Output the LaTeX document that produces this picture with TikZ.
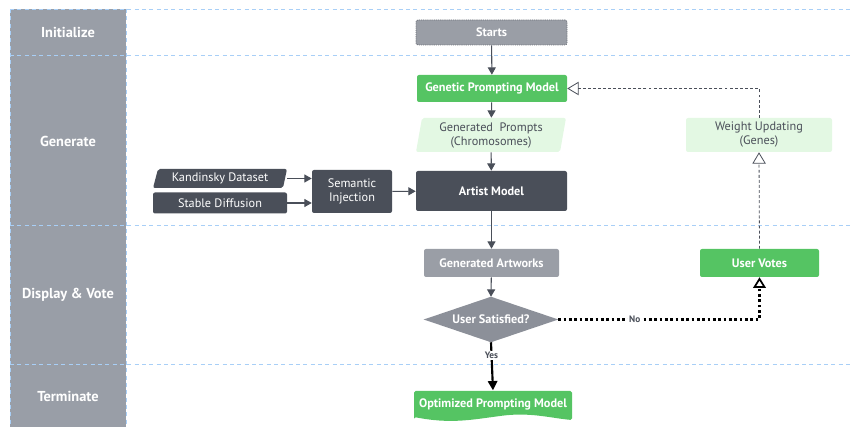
\documentclass[tikz,border=0pt]{standalone}
\usepackage{fontspec}
\setmainfont{PT Sans}
\usetikzlibrary{arrows.meta,backgrounds}
\definecolor{lanegray}{HTML}{999EA7}
\definecolor{nodegray}{HTML}{9A9EA6}
\definecolor{diagray}{HTML}{8C9099}
\definecolor{darkc}{HTML}{4A4F59}
\definecolor{greenc}{HTML}{55C463}
\definecolor{lightg}{HTML}{E3F8E3}
\definecolor{bluedash}{HTML}{A8CFF7}
\definecolor{dotborder}{HTML}{6E727A}
\begin{document}
\begin{tikzpicture}[x=0.75pt,y=-0.75pt,
  every node/.style={font=\fontsize{9.2}{10.5}\selectfont, inner sep=0pt, align=center},
  bfnode/.style={font=\fontsize{9.2}{10.5}\selectfont\bfseries},
  lanelabel/.style={font=\fontsize{10.8}{12}\selectfont\bfseries, text=white},
  darkbox/.style={rectangle, fill=darkc, text=white, rounded corners=1.5pt},
  greenbox/.style={rectangle, fill=greenc, text=white, rounded corners=1.5pt, bfnode},
  graybox/.style={rectangle, fill=nodegray, text=white, rounded corners=1.5pt, bfnode},
  lightbox/.style={rectangle, text=darkc},
  bluedashed/.style={draw=bluedash, line width=0.6pt, dash pattern=on 3pt off 2.5pt},
  arr/.style={draw=darkc, line width=0.8pt, -{Triangle[length=5.5pt,width=6pt]}},
  openarr/.style={draw=darkc, line width=0.6pt, dash pattern=on 2.2pt off 1.6pt, -{Triangle[open,length=8.5pt,width=10pt,line width=0.6pt]}},
  noarr/.style={draw=black, line width=1.7pt, dash pattern=on 2pt off 2pt, -{Triangle[open,length=8pt,width=9.5pt,line width=1.3pt]}},
  yesarr/.style={draw=black, line width=1.6pt, -{Triangle[length=7pt,width=7pt]}},
  edgelabel/.style={font=\fontsize{7}{8}\selectfont\bfseries, text=darkc, fill=white, inner sep=0.8pt}
]
\useasboundingbox (0,0) rectangle (853,427);

% lanes
\fill[lanegray] (10,9) rectangle (126,427);
\foreach \yy in {9,55,225,364} \draw[bluedashed] (10,\yy) -- (853,\yy);
\draw[bluedashed] (10,9) -- (10,427);
\draw[bluedashed] (126,9) -- (126,427);
\node[lanelabel] (l1) at (68,32) {Initialize};
\node[lanelabel] (l2) at (68,141) {Generate};
\node[lanelabel] (l3) at (68,295) {Display \& Vote};
\node[lanelabel] (l4) at (68,396) {Terminate};

% nodes
\node[graybox, minimum width=113.25pt, minimum height=18.75pt, draw=dotborder, line width=0.6pt, dash pattern=on 0.8pt off 0.8pt] (start) at (491.5,32.5) {Starts};
\node[greenbox, minimum width=112.5pt, minimum height=20.25pt] (gpm) at (492,88.5) {Genetic Prompting Model};
\node[lightbox, minimum width=112.5pt, minimum height=25.5pt] (gp) at (491,135) {Generated~ Prompts\\(Chromosomes)};
\node[darkbox, bfnode, minimum width=113.25pt, minimum height=30pt] (artist) at (491.5,191) {Artist Model};
\node[darkbox, minimum width=60pt, minimum height=32.25pt] (sem) at (352,191.5) {Semantic\\Injection};
\node[rectangle, text=white, minimum width=100.5pt, minimum height=14.25pt] (kand) at (220,178.5) {Kandinsky Dataset};
\node[darkbox, minimum width=100.5pt, minimum height=15.75pt] (sd) at (220,203) {Stable Diffusion};
\node[graybox, minimum width=101.25pt, minimum height=21pt] (art) at (491.5,263) {Generated Artworks};
\node[rectangle, text=white, bfnode, minimum width=100.5pt, minimum height=33.75pt] (sat) at (491,319.5) {User Satisfied?};
\node[rectangle, text=white, bfnode, minimum width=118.5pt, minimum height=20pt] (opt) at (493,404) {Optimized Prompting Model};
\node[greenbox, minimum width=89.25pt, minimum height=21pt] (uv) at (759.5,263) {User Votes};
\node[lightbox, fill=lightg, rounded corners=1.5pt, minimum width=109.5pt, minimum height=25.5pt] (wu) at (759,135) {Weight Updating\\(Genes)};

\begin{scope}[on background layer]
  \fill[lightg, rounded corners=1.5pt] (422,118) -- (566,118) -- (560,152) -- (416,152) -- cycle;
  \fill[darkc, rounded corners=1.5pt] (158,169) -- (287,169) -- (283,188) -- (153,188) -- cycle;
  \fill[diagray] (sat.north) -- (sat.east) -- (sat.south) -- (sat.west) -- cycle;
  \fill[greenc, rounded corners=1.2pt] (414,419) -- (414,391) -- (572,391) -- (572,420)
     .. controls (550,418) and (530,412) .. (500,416)
     .. controls (470,420) and (450,424) .. (414,417) -- cycle;
\end{scope}

% connectors
\draw[arr] (start) -- (gpm);
\draw[arr] (gpm) -- (gp);
\draw[arr] (gp) -- (artist);
\draw[arr] (kand.east) -- (kand.east -| sem.west);
\draw[arr] (sd.east) -- (sd.east -| sem.west);
\draw[arr] (sem) -- (artist);
\draw[arr] (artist) -- (art);
\draw[arr] (art) -- (sat.north);
\draw[yesarr] (sat.south) -- node[edgelabel, pos=0.27] {Yes} (opt.north);
\draw[noarr] (sat.east) -| node[edgelabel, pos=0.19] {No} (uv.south);
\draw[openarr] (uv.north) -- (wu.south);
\draw[openarr] (wu.north) |- (gpm.east);
\end{tikzpicture}
\end{document}
